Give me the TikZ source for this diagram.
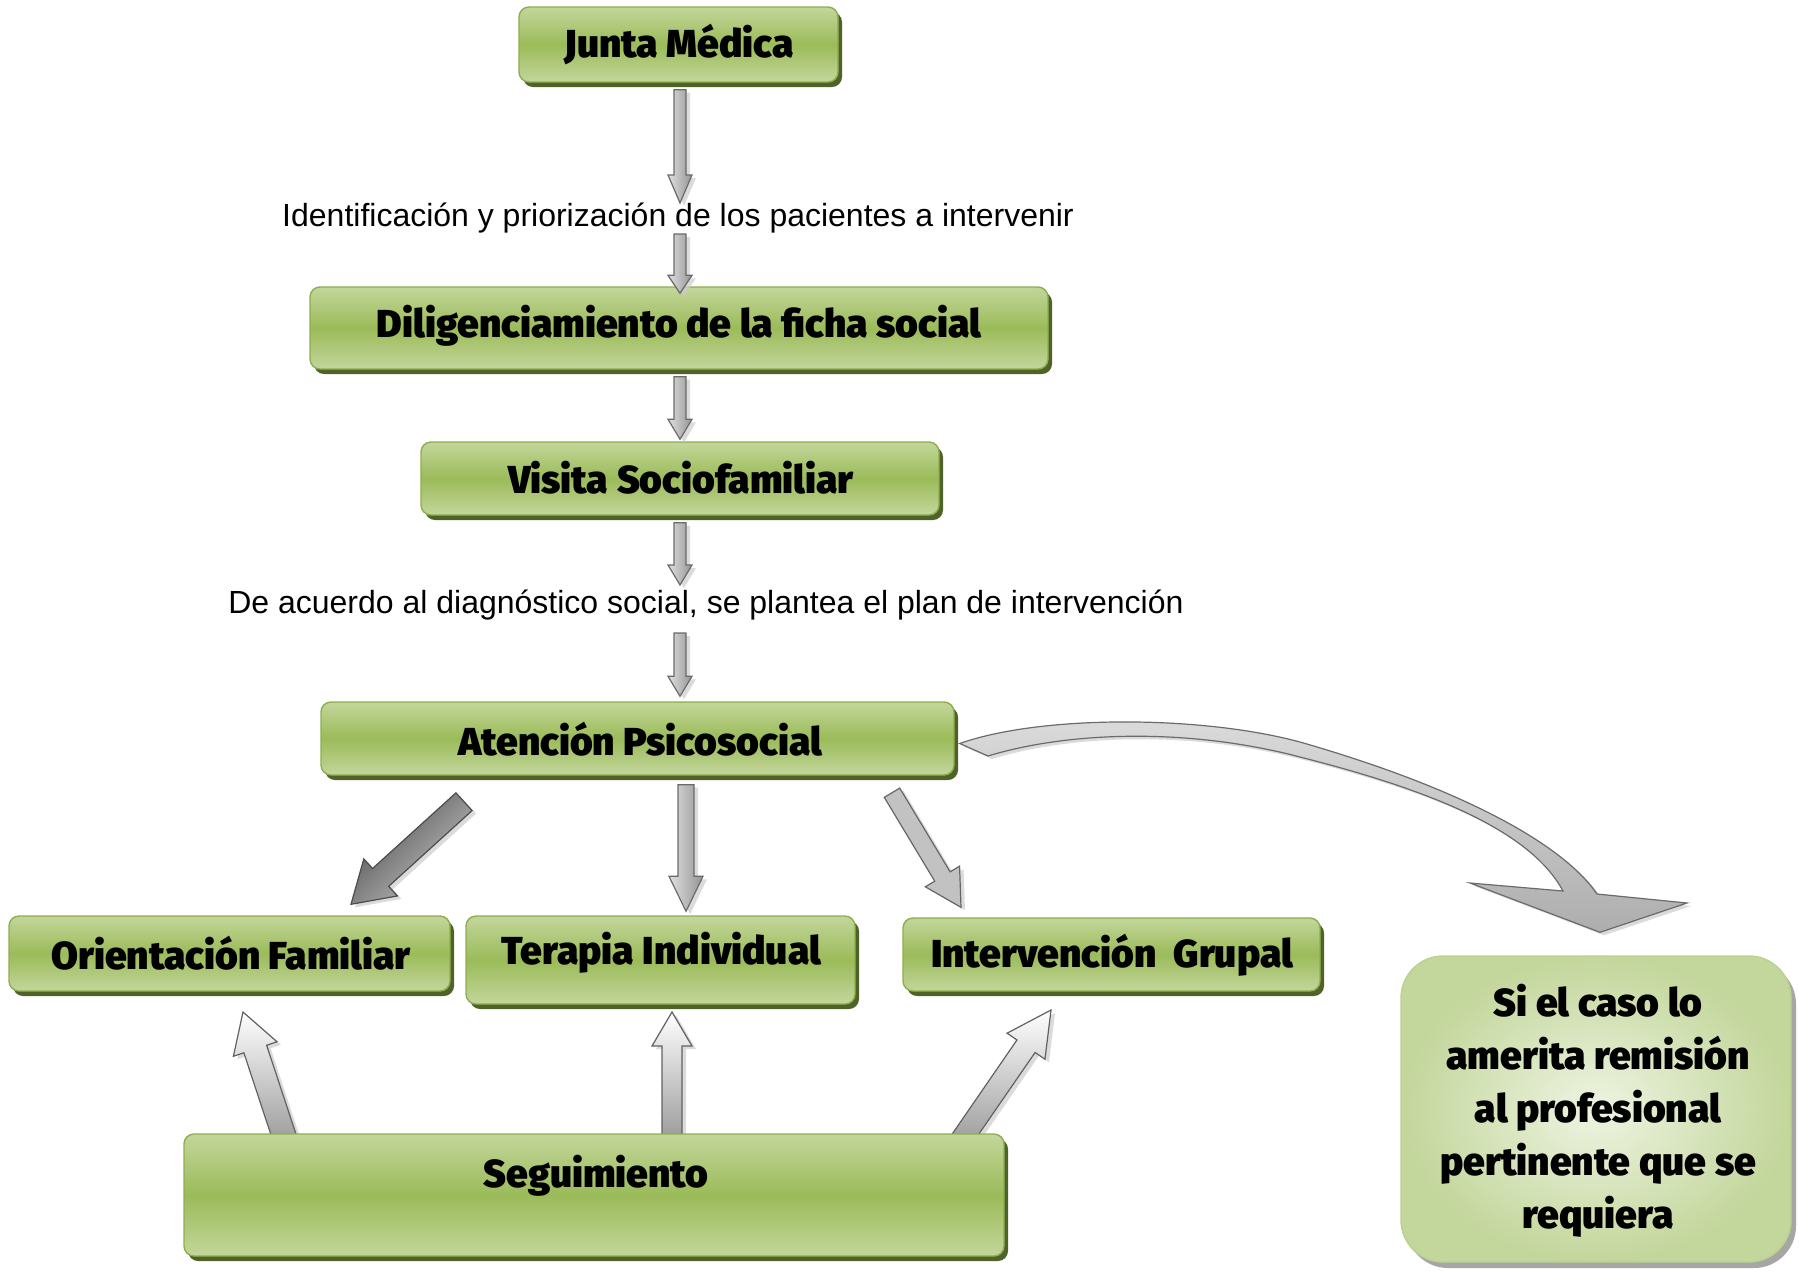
\documentclass[tikz,border=0pt]{standalone}
\usepackage{fontspec}
\setmainfont{Liberation Sans}
\newfontfamily\boxfont{Fira Sans Black}
\usetikzlibrary{calc,shadows}

\definecolor{gLight}{HTML}{C3D69B}
\definecolor{gMid}{HTML}{9BBB59}
\definecolor{gEdge}{HTML}{8DAE4F}
\definecolor{gShadow}{HTML}{4F6228}
\definecolor{gPale}{HTML}{EEF4E2}
\definecolor{aEdge}{HTML}{6A6A6A}

\tikzset{
  gbox/.style={draw=gEdge, line width=1.4pt, rounded corners=10pt,
    top color=gLight, bottom color=gLight, middle color=gMid,
    general shadow={fill=gShadow, shadow xshift=4pt, shadow yshift=-5pt},
    inner sep=0pt},
  softbox/.style={draw=gLight!80!gMid, line width=1.4pt, rounded corners=42pt,
    inner color=gPale, outer color=gLight,
    general shadow={fill=black!35, shadow xshift=5pt, shadow yshift=-6pt},
    inner sep=0pt},
  btext/.style={font=\boxfont\fontsize{39}{44}\selectfont, inner sep=0pt},
  ntext/.style={font=\boxfont\fontsize{39}{53}\selectfont, inner sep=0pt, align=center},
  ltext/.style={font=\fontsize{32}{38}\selectfont, inner sep=0pt},
  downarr/.style={draw=aEdge, line width=1.2pt, left color=black!12, right color=black!42},
  darkarr/.style={draw=black!70, line width=1.2pt, top color=black!70, bottom color=black!22, shading angle=45},
  lightarr/.style={draw=black!60, line width=1.2pt, fill=black!24},
  uparr/.style={draw=black!62, line width=1.2pt, top color=white, bottom color=black!40},
  curvearr/.style={draw=black!58, line width=1.2pt, top color=black!14, bottom color=black!32},
  arrshadow/.style={fill=black!20, opacity=0.7, transform canvas={shift={(4pt,-3pt)}}},
}

% block arrow polygon: start, end, shaft half width, head half width
\newcommand\arrowpoly[4]{%
  ($(#1)!#3!90:(#2)$) -- ($(bah)!#3!90:(#2)$) -- ($(bah)!#4!90:(#2)$) -- (#2)
  -- ($(bah)!#4!-90:(#2)$) -- ($(bah)!#3!-90:(#2)$) -- ($(#1)!#3!-90:(#2)$) -- cycle}
% style, start, end, shaft half width, head half width, head length
\newcommand\blockarrow[6]{%
  \coordinate (bah) at ($(#3)!#6!(#2)$);
  \path[arrshadow] \arrowpoly{#2}{#3}{#4}{#5};
  \path[#1] \arrowpoly{#2}{#3}{#4}{#5};
}

\begin{document}
\begin{tikzpicture}[x=1pt, y=-1pt]
\useasboundingbox (0,0) rectangle (1799,1270);

% follow-up arrows sit behind the boxes, so they are placed first
\coordinate (segTop) at (594,1134);
\coordinate (oriBot) at (229.5,991);
\coordinate (terBot) at (660.5,1004);
\coordinate (intBot) at (1111.5,991);
\blockarrow{uparr}{[shift={(-308,8)}]segTop}{[shift={(13.5,21)}]oriBot}{12pt}{23pt}{39pt}
\blockarrow{uparr}{[shift={(78,8)}]segTop}{[shift={(11.5,8)}]terBot}{10pt}{20pt}{34pt}
\blockarrow{uparr}{[shift={(366,8)}]segTop}{[shift={(-60.5,19)}]intBot}{11pt}{23pt}{44pt}

% process boxes
\node[gbox, minimum width=319, minimum height=75] (junta) at (678.5,44.5) {};
\node[gbox, minimum width=738, minimum height=82] (dilig) at (679,328) {};
\node[gbox, minimum width=518, minimum height=73] (visita) at (680,478.5) {};
\node[gbox, minimum width=633, minimum height=73] (aten) at (637.5,738.5) {};
\node[gbox, minimum width=441, minimum height=75] (orient) at (oriBot) [yshift=37.5pt] {};
\node[gbox, minimum width=389, minimum height=88] (terapia) at (terBot) [yshift=44pt] {};
\node[gbox, minimum width=417, minimum height=73] (interv) at (intBot) [yshift=36.5pt] {};
\node[gbox, minimum width=820, minimum height=122] (seg) at (segTop) [yshift=-61pt] {};
\node[softbox, minimum width=390, minimum height=306] (remis) at (1596,1109) {};

% box captions
\node[btext] (juntaT) at (679,44) {Junta Médica};
\node[btext] (diligT) at (679,326) {Diligenciamiento de la ficha social};
\node[btext] (visitaT) at (681,478) {Visita Sociofamiliar};
\node[btext] (atenT) at (640,739) {Atención Psicosocial};
\node[btext] (orientT) at (231,953) {Orientación Familiar};
\node[btext] (terapiaT) at (661,953) {Terapia Individual};
\node[btext] (intervT) at (1112,955) {Intervención~~Grupal};
\node[btext] (segT) at (596,1176) {Seguimiento};
\node[ntext] (remisT) at (1598,1111) {Si el caso lo\\amerita remisión\\al profesional\\pertinente que se\\requiera};

% step descriptions
\node[ltext] (lab1) at (678,218) {Identificación y priorización de los pacientes a intervenir};
\node[ltext] (lab2) at (706,605) {De acuerdo al diagnóstico social, se plantea el plan de intervención};

% main sequence arrows
\blockarrow{downarr}{[shift={(1.5,7)}]junta.south}{[shift={(2,-15)}]lab1.center}{6pt}{12pt}{28pt}
\blockarrow{downarr}{[shift={(2,16)}]lab1.center}{[shift={(1,7)}]dilig.north}{6pt}{12pt}{18pt}
\blockarrow{downarr}{[shift={(1,7)}]dilig.south}{[shift={(0,-2)}]visita.north}{6pt}{12pt}{20pt}
\blockarrow{downarr}{[shift={(0,7)}]visita.south}{[shift={(-26,-20)}]lab2.center}{6pt}{12pt}{20pt}
\blockarrow{downarr}{[shift={(-26,28)}]lab2.center}{[shift={(42.5,-5)}]aten.north}{6pt}{12pt}{20pt}

% branches of the psychosocial care
\blockarrow{darkarr}{[shift={(-173.5,26)}]aten.south}{[shift={(121.5,-11)}]orient.north}{12pt}{25pt}{40pt}
\blockarrow{downarr}{[shift={(48.5,9)}]aten.south}{[shift={(25.5,-4)}]terapia.north}{8pt}{17pt}{35pt}
\blockarrow{lightarr}{[shift={(254.5,17)}]aten.south}{[shift={(-150.5,-10)}]interv.north}{9pt}{20pt}{36pt}

% curved referral arrow
\coordinate (ct) at ([shift={(5,5)}]aten.east);
\coordinate (ctip) at ([shift={(4,-23)}]remis.north);
\path[arrshadow] (ct) .. controls (1040,715) and (1200,715) .. (1300,742)
  .. controls (1450,785) and (1560,840) .. (1597,894) -- (1687,903) -- (ctip)
  -- (1470,883) -- (1563,891) .. controls (1530,830) and (1430,790) .. (1300,757)
  .. controls (1190,728) and (1070,731) .. (988,756) -- cycle;
\path[curvearr] (ct) .. controls (1040,715) and (1200,715) .. (1300,742)
  .. controls (1450,785) and (1560,840) .. (1597,894) -- (1687,903) -- (ctip)
  -- (1470,883) -- (1563,891) .. controls (1530,830) and (1430,790) .. (1300,757)
  .. controls (1190,728) and (1070,731) .. (988,756) -- cycle;
\end{tikzpicture}
\end{document}
